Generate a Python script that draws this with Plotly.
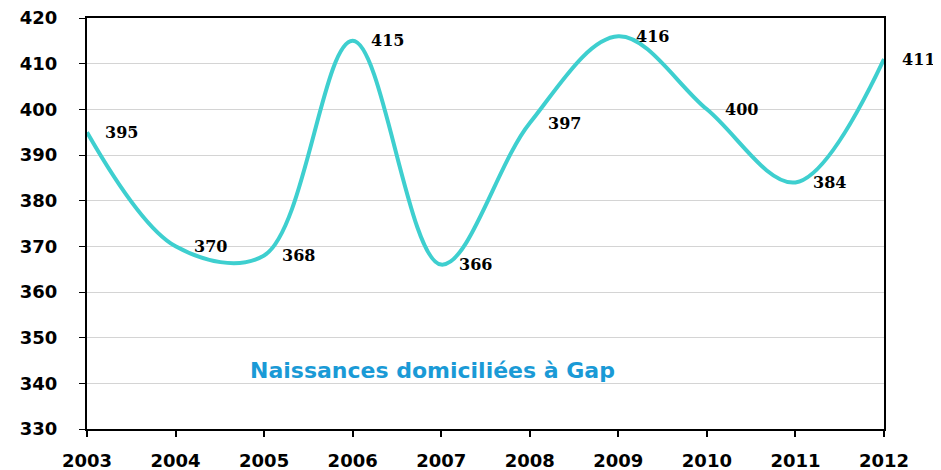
import plotly.graph_objects as go

years = [2003, 2004, 2005, 2006, 2007, 2008, 2009, 2010, 2011, 2012]
births = [395, 370, 368, 415, 366, 397, 416, 400, 384, 411]
y_ticks = [330, 340, 350, 360, 370, 380, 390, 400, 410, 420]
title_text = "Naissances domiciliées à Gap"

fig = go.Figure()

# smoothed line, like the excel original
fig.add_trace(go.Scatter(
    x=years, y=births,
    mode="lines",
    line=dict(color="#3ecfcf", width=4, shape="spline", smoothing=1.0),
    hoverinfo="x+y",
    showlegend=False,
))

# value labels to the right of each point
for yr, v in zip(years, births):
    fig.add_annotation(
        x=yr, y=v, text=str(v),
        showarrow=False, xanchor="left", yanchor="middle",
        xshift=16,
        font=dict(family="DejaVu Serif", size=16, color="black", weight="bold"),
    )

fig.add_annotation(
    x=2006.9, y=342.8, text=title_text,
    showarrow=False, xanchor="center", yanchor="middle",
    font=dict(family="DejaVu Sans", size=22, color="#1a9ad6", weight="bold"),
)

# page body has an 8px margin, so size/margins are compensated
fig.update_layout(
    width=933, height=462,
    paper_bgcolor="white", plot_bgcolor="white",
    margin=dict(l=79, r=57, t=10, b=41, autoexpand=False),
    xaxis=dict(
        range=[2003, 2012], tickvals=years, automargin=False,
        showgrid=False, zeroline=False,
        showline=True, linecolor="black", linewidth=2, mirror=True,
        ticks="outside", ticklen=6, tickcolor="black", tickwidth=2,
        ticklabelstandoff=8, ticklabeloverflow="allow",
        tickfont=dict(family="DejaVu Sans", size=18, color="black", weight="bold"),
    ),
    yaxis=dict(
        range=[330, 420], tickvals=y_ticks, automargin=False,
        showgrid=True, gridcolor="#d4d4d4", gridwidth=1, zeroline=False,
        showline=True, linecolor="black", linewidth=2, mirror=True,
        ticks="outside", ticklen=6, tickcolor="black", tickwidth=1,
        ticklabelstandoff=18, ticklabeloverflow="allow",
        tickfont=dict(family="DejaVu Sans", size=18, color="black", weight="bold"),
    ),
)

fig.write_html("out.html")
